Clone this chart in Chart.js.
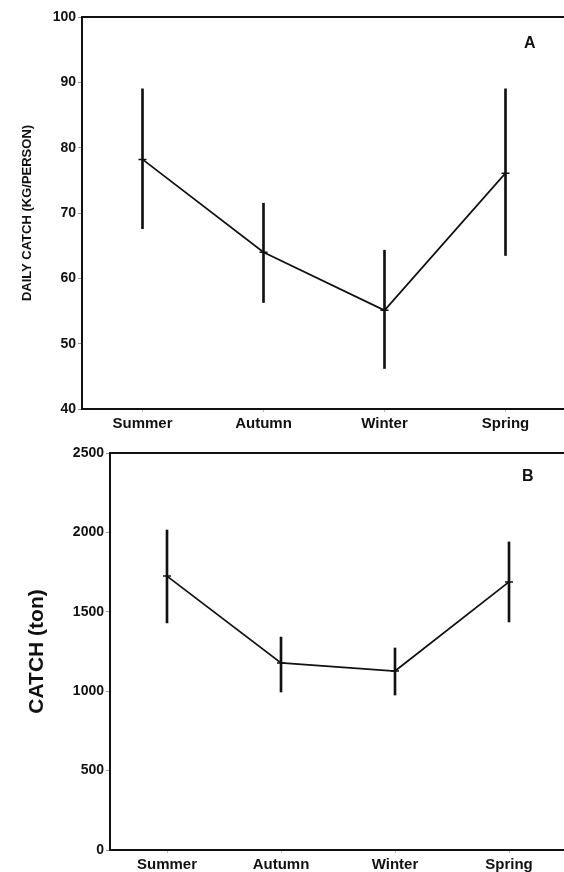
<!DOCTYPE html>
<html>
<head>
<meta charset="utf-8">
<script src="https://cdn.jsdelivr.net/npm/chart.js@4.4.0/dist/chart.umd.min.js"></script>
<style>
  body { margin: 0; background: #fff; }
  #wrap { position: relative; width: 564px; height: 872px; overflow: hidden; }
  canvas { position: absolute; left: 0; }
  #chart-a { top: 0; }
  #chart-b { top: 436px; }
  .letra { position: absolute; font: bold 16px "Liberation Sans", Arial, sans-serif; color: #111; }
</style>
</head>
<body>
<div id="wrap">
  <canvas id="chart-a" width="566" height="436"></canvas>
  <canvas id="chart-b" width="566" height="436"></canvas>
  <div class="letra" style="left:524px; top:34px;">A</div>
  <div class="letra" style="left:522px; top:467px;">B</div>
</div>
<script>
// dados
const estacoes = ["Summer", "Autumn", "Winter", "Spring"];

const diariaMedia = [78.2, 64.0, 55.1, 76.1];
const diariaMin = [67.6, 56.3, 46.2, 63.5];
const diariaMax = [89.0, 71.5, 64.3, 89.0];

const capturaMedia = [1725, 1178, 1127, 1688];
const capturaMin = [1430, 995, 976, 1436];
const capturaMax = [2015, 1341, 1272, 1940];

const preto = "#111";
const fonte = "'Liberation Sans', Arial, sans-serif";

function intervalos(min, max) {
  var lista = [];
  for (var i = 0; i < min.length; i++) {
    lista.push([min[i], max[i]]);
  }
  return lista;
}

function montar(canvas, media, min, max, eixoY) {
  return new Chart(canvas, {
    type: "bar",
    data: {
      labels: estacoes,
      datasets: [
        {
          type: "line",
          data: media,
          borderColor: preto,
          borderWidth: 1.7,
          tension: 0,
          pointStyle: "line",
          pointRadius: 4,
          pointBorderWidth: 1.5,
          pointBorderColor: preto,
          order: 1
        },
        {
          type: "bar",
          data: intervalos(min, max),
          backgroundColor: preto,
          borderWidth: 0,
          barThickness: 2,
          order: 2
        }
      ]
    },
    options: {
      responsive: false,
      animation: false,
      layout: {
        autoPadding: false,
        padding: { top: 17, left: 0, right: 0, bottom: 0 }
      },
      plugins: {
        legend: { display: false },
        tooltip: { enabled: false }
      },
      scales: {
        x: {
          offset: true,
          afterFit: function (s) { s.height = eixoY.alturaX; },
          border: { color: preto, width: 2 },
          grid: { offset: false, drawOnChartArea: false, tickLength: 3, color: "#bbb" },
          ticks: {
            color: preto,
            padding: 3,
            font: { family: fonte, size: 15, weight: "bold" }
          }
        },
        xTopo: {
          type: "category",
          position: "top",
          afterFit: function (s) { s.height = 0; },
          border: { color: preto, width: 2 },
          grid: { display: false },
          ticks: { display: false }
        },
        y: {
          min: eixoY.min,
          max: eixoY.max,
          afterFit: function (s) { s.width = eixoY.largura; },
          border: { color: preto, width: 2 },
          grid: { drawOnChartArea: false, tickLength: 4, color: "#999" },
          ticks: {
            stepSize: eixoY.passo,
            color: preto,
            padding: 2,
            font: { family: fonte, size: eixoY.tamTick, weight: "bold" },
            callback: function (v) { return String(v); }
          },
          title: {
            display: true,
            text: eixoY.titulo,
            color: preto,
            padding: { top: eixoY.padTitulo, bottom: 0 },
            font: { family: fonte, size: eixoY.tamTitulo, weight: "bold" }
          }
        }
      }
    }
  });
}

montar(document.getElementById("chart-a"), diariaMedia, diariaMin, diariaMax, {
  min: 40, max: 100, passo: 10, largura: 82, alturaX: 27,
  titulo: "DAILY CATCH (KG/PERSON)", tamTitulo: 13, padTitulo: 20, tamTick: 14
});

montar(document.getElementById("chart-b"), capturaMedia, capturaMin, capturaMax, {
  min: 0, max: 2500, passo: 500, largura: 110, alturaX: 22,
  titulo: "CATCH (ton)", tamTitulo: 21, padTitulo: 25, tamTick: 14
});
</script>
</body>
</html>
